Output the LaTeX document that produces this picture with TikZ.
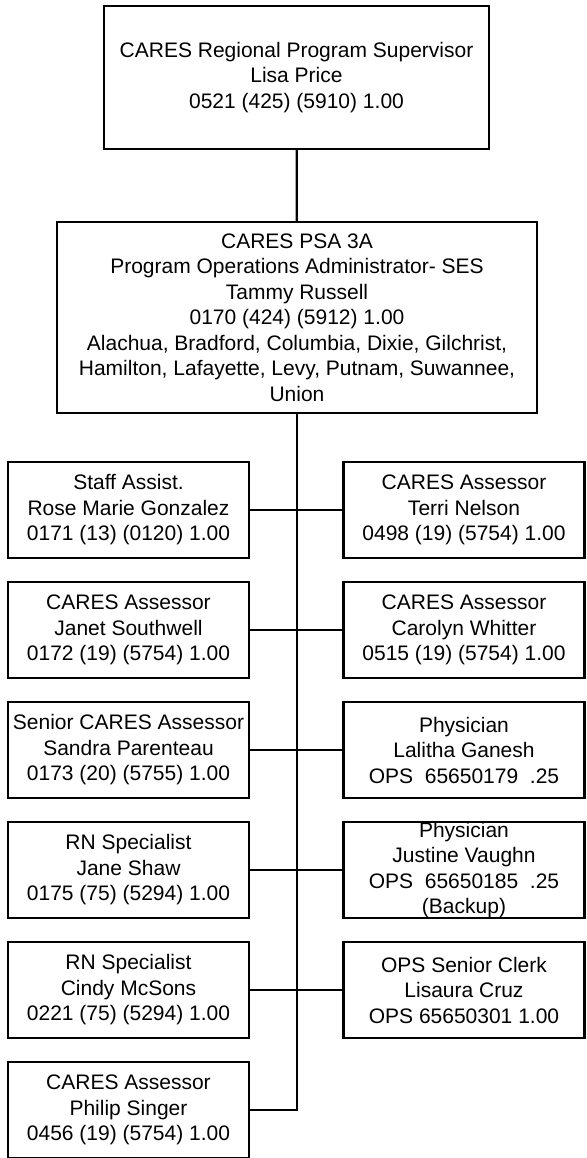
\documentclass[tikz,border=0pt]{standalone}
\usepackage{fontspec}
\setmainfont{Liberation Sans}
\usepackage{tikz}
\usetikzlibrary{calc}

\begin{document}
\begin{tikzpicture}[x=0.5pt,y=-0.5pt,line width=1.1pt]
            \tikzstyle{every node}=[draw,align=center,inner sep=0pt,font=\fontsize{10.5}{12.75}\selectfont]
            \tikzstyle{staffbox}=[minimum width=120.5pt,minimum height=48pt]
            \useasboundingbox (0,0) rectangle (586,1158);
            \draw (296.5,77.5) node[minimum width=192.5pt,minimum height=71.5pt] (top) {CARES Regional Program Supervisor\\Lisa Price\\0521 (425) (5910) 1.00};
            \node[minimum width=240pt,minimum height=95.5pt] (psa) at ($(top) + (0.5,240)$) {CARES PSA 3A\\Program Operations Administrator- SES\\Tammy Russell\\0170 (424) (5912) 1.00\\Alachua, Bradford, Columbia, Dixie, Gilchrist,\\Hamilton, Lafayette, Levy, Putnam, Suwannee,\\Union};
            \draw (top)--(psa);
            \node[staffbox] (l1) at (128.5,510) {Staff Assist.\\Rose Marie Gonzalez\\0171 (13) (0120) 1.00};
            \node[staffbox] (r1) at ($(l1) + (335.5,0)$) {CARES Assessor\\Terri Nelson\\0498 (19) (5754) 1.00};
            \node[staffbox] (l2) at ($(l1) + (0,120)$) {CARES Assessor\\Janet Southwell\\0172 (19) (5754) 1.00};
            \node[staffbox] (r2) at ($(r1) + (0,120)$) {CARES Assessor\\Carolyn Whitter\\0515 (19) (5754) 1.00};
            \node[staffbox] (l3) at ($(l2) + (0,120)$) {Senior CARES Assessor\\Sandra Parenteau\\0173 (20) (5755) 1.00};
            \node[staffbox] (r3) at ($(r2) + (0,120)$) {Physician\\Lalitha Ganesh\\OPS\ \ 65650179\ \ .25};
            \node[staffbox] (l4) at ($(l3) + (0,120)$) {RN Specialist\\Jane Shaw\\0175 (75) (5294) 1.00};
            \node[staffbox] (r4) at ($(r3) + (0,120)$) {Physician\\Justine Vaughn\\OPS\ \ 65650185\ \ .25\\(Backup)};
            \node[staffbox] (l5) at ($(l4) + (0,120)$) {RN Specialist\\Cindy McSons\\0221 (75) (5294) 1.00};
            \node[staffbox] (r5) at ($(r4) + (0,120)$) {OPS Senior Clerk\\Lisaura Cruz\\OPS 65650301 1.00};
            \node[staffbox] (l6) at ($(l5) + (0,120)$) {CARES Assessor\\Philip Singer\\0456 (19) (5754) 1.00};
            \draw (psa.south) |- (l6.east);
            \draw (l1)--(r1);
            \draw (l2)--(r2);
            \draw (l3)--(r3);
            \draw (l4)--(r4);
            \draw (l5)--(r5);
        \end{tikzpicture}
\end{document}
